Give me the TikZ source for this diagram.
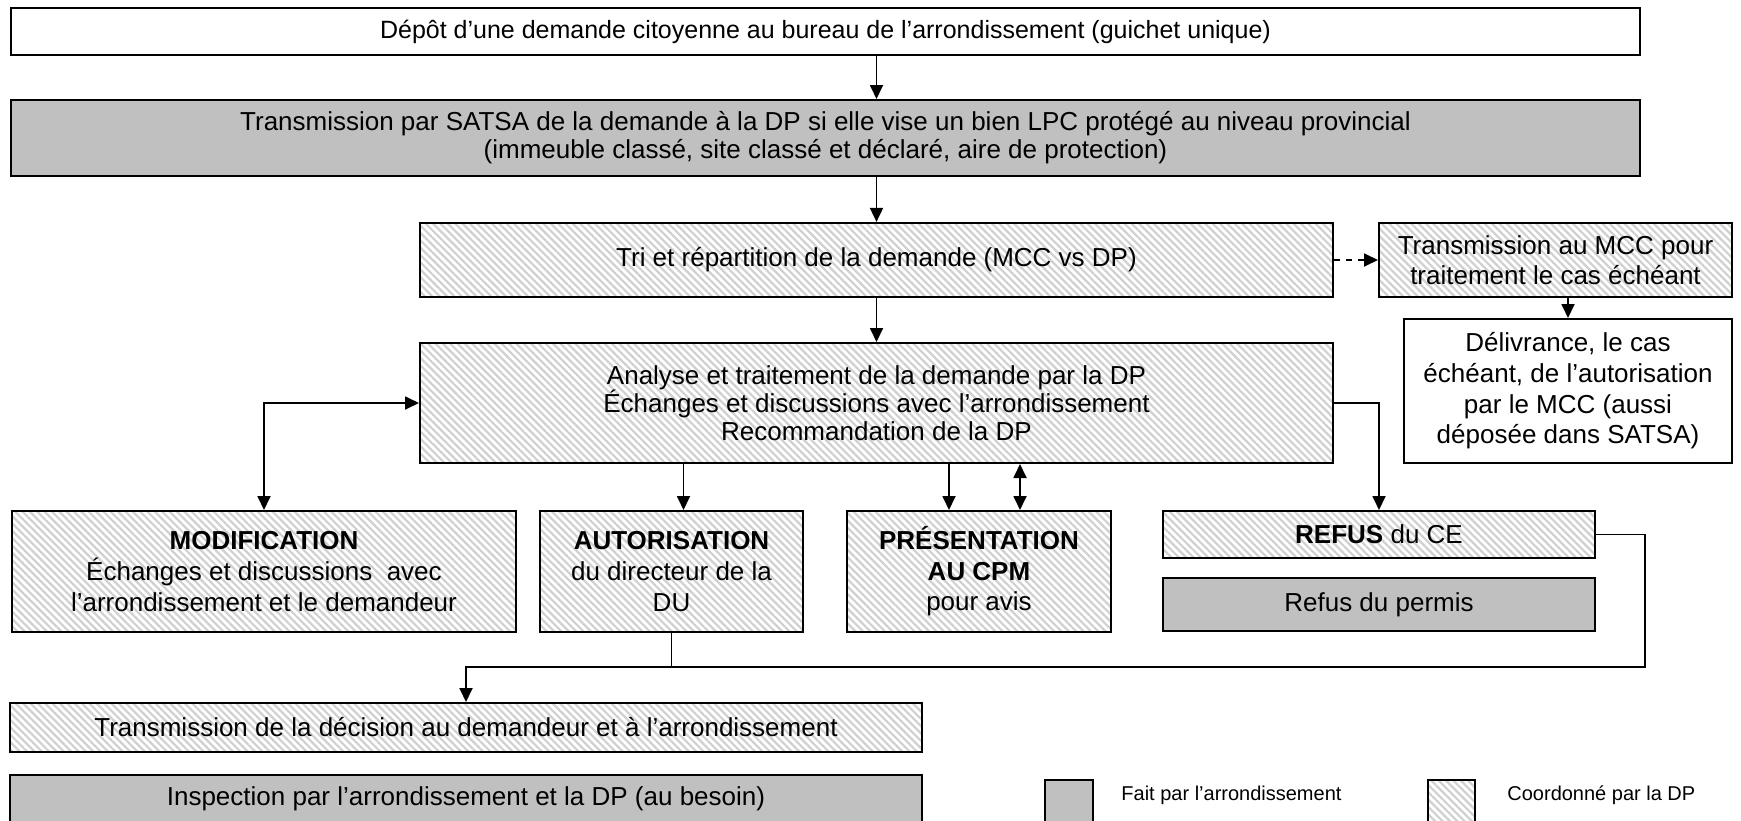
\documentclass[tikz,border=0pt]{standalone}
\usepackage{fontspec}
\setmainfont{Liberation Sans}
\usetikzlibrary{arrows.meta,patterns.meta}
\definecolor{boxgray}{RGB}{192,192,192}
\definecolor{hatchgray}{RGB}{208,208,208}
\tikzset{
	box/.style={draw, line width=1pt, align=center, inner sep=2pt, font=\fontsize{13}{15.3}\selectfont},
	dpbox/.style={box, pattern={Lines[angle=-45,distance=2.6pt,line width=1.1pt]}, pattern color=hatchgray},
	arbox/.style={box, fill=boxgray},
	tip/.tip={Triangle[length=7pt,width=6.5pt]},
	arr/.style={-tip, line width=0.9pt},
	dblarr/.style={tip-tip, line width=0.9pt},
	link/.style={line width=0.9pt},
}

\begin{document}
\begin{tikzpicture}[x=0.5pt, y=-0.5pt]
		\useasboundingbox (0,0) rectangle (1741,820);
		\node[box, minimum width=814.5pt, minimum height=23.5pt, font=\fontsize{12.5}{15}\selectfont] (depot) at (825.5,31.5) {D\'ep\^ot d’une demande citoyenne au bureau de l’arrondissement (guichet unique)};
		\node[arbox, minimum width=814.5pt, minimum height=38pt, font=\fontsize{13}{14}\selectfont] (satsa) at (825.5,138) {Transmission par SATSA de la demande \`a la DP si elle vise un bien LPC prot\'eg\'e au niveau provincial\\(immeuble class\'e, site class\'e et d\'eclar\'e, aire de protection)};
		\node[dpbox, minimum width=456.5pt, minimum height=37pt] (tri) at (876.5,260) {Tri et r\'epartition de la demande (MCC vs DP)};
		\node[dpbox, minimum width=176.5pt, minimum height=37pt] (mcc) at (1555.5,260) {Transmission au MCC pour\\traitement le cas \'ech\'eant};
		\node[box, minimum width=164pt, minimum height=72pt] (deliv) at (1568,391) {D\'elivrance, le cas\\\'ech\'eant, de l’autorisation\\par le MCC (aussi\\d\'epos\'ee dans SATSA)};
		\node[dpbox, minimum width=456.5pt, minimum height=60pt, font=\fontsize{13}{14}\selectfont] (analyse) at (876.5,403) {Analyse et traitement de la demande par la DP\\\'Echanges et discussions avec l’arrondissement\\Recommandation de la DP};
		\node[dpbox, minimum width=252pt, minimum height=60.5pt] (modif) at (264,571.5) {\textbf{MODIFICATION}\\\'Echanges et discussions\ \ avec\\l’arrondissement et le demandeur};
		\node[dpbox, minimum width=131.5pt, minimum height=60.5pt] (autor) at (671.5,571.5) {\textbf{AUTORISATION}\\du directeur de la\\DU};
		\node[dpbox, minimum width=132pt, minimum height=60.5pt] (pres) at (979,571.5) {\textbf{PR\'ESENTATION}\\\textbf{AU CPM}\\pour avis};
		\node[dpbox, minimum width=216pt, minimum height=23.5pt] (refus) at (1379,534.5) {\textbf{REFUS} du CE};
		\node[arbox, minimum width=216pt, minimum height=26.5pt] (refperm) at (1379,604.5) {Refus du permis};
		\node[dpbox, minimum width=456pt, minimum height=24.5pt] (transdec) at (466,727.5) {Transmission de la d\'ecision au demandeur et \`a l’arrondissement};
		\node[arbox, minimum width=456pt, minimum height=23.5pt] (inspect) at (466,798.5) {Inspection par l’arrondissement et la DP (au besoin)};
		\node[arbox, minimum width=24pt, minimum height=22pt] (leggray) at (1069,802) {};
		\node[dpbox, minimum width=23.5pt, minimum height=22pt] (leghatch) at (1451.5,802) {};
		\node[anchor=west, inner sep=0pt, font=\fontsize{10}{12}\selectfont] (legtxta) at (1121,795) {Fait par l’arrondissement};
		\node[anchor=west, inner sep=0pt, font=\fontsize{10}{12}\selectfont] (legtxtb) at (1507,795) {Coordonn\'e par la DP};
		\coordinate (jct) at (671.5,667);
		\draw[arr] (depot.south -| tri.north) -- (satsa.north -| tri.north);
		\draw[arr] (satsa.south -| tri.north) -- (tri.north);
		\draw[arr] (tri.south) -- (analyse.north);
		\draw[arr, dashed] (tri.east) -- (mcc.west);
		\draw[arr] (mcc.south -| deliv.north) -- (deliv.north);
		\draw[dblarr] (analyse.west) -| (modif.north);
		\draw[arr] ([xshift=6pt]autor.north |- analyse.south) -- ([xshift=6pt]autor.north);
		\draw[arr] ([xshift=-15pt]pres.north |- analyse.south) -- ([xshift=-15pt]pres.north);
		\draw[dblarr] ([xshift=20.5pt]pres.north |- analyse.south) -- ([xshift=20.5pt]pres.north);
		\draw[arr] (analyse.east) -| (refus.north);
		\draw[link] (autor.south) -- (jct);
		\draw[arr] (jct) -| (transdec.north);
		\draw[link] (refus.east) -- ++(49,0) |- (jct);
	\end{tikzpicture}
\end{document}
